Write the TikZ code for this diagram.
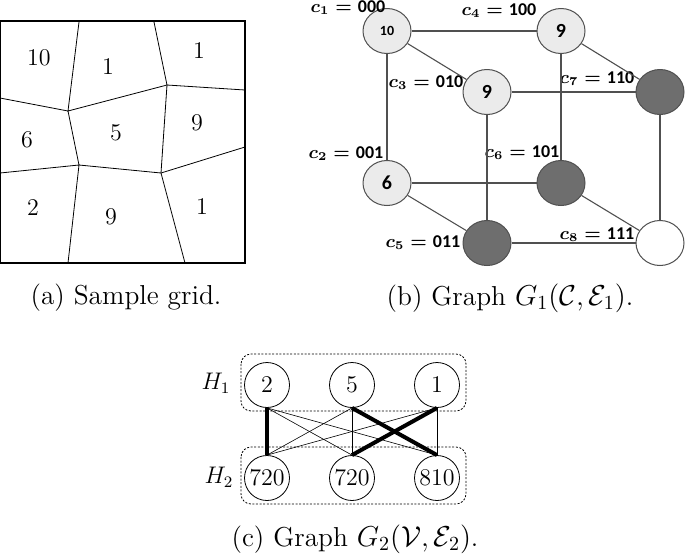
\documentclass[tikz,border=0pt]{standalone}
\usepackage{amsmath}
\usepackage{amssymb}
\usepackage{xcolor}
\usepackage{fontspec}
\usetikzlibrary{shapes.geometric}
\newfontfamily\carlito{Carlito}
\newcommand{\Cset}{\mathcal{C}}
\newcommand{\Vset}{\mathcal{V}}
\newcommand{\Eset}{\mathcal{E}}
\definecolor{cellgray}{HTML}{EBEBEB}
\definecolor{darkcell}{HTML}{6E6E6E}
\definecolor{edgegray}{HTML}{505050}
\tikzset{
  cellnum/.style={font=\large},
  cube/.style={ellipse, draw=edgegray, line width=0.5pt, minimum width=24pt,
    minimum height=22.5pt, inner sep=0pt, font=\carlito\bfseries\normalsize},
  light/.style={cube, fill=cellgray},
  dark/.style={cube, fill=darkcell},
  blank/.style={cube, fill=white},
  clabel/.style={font=\carlito\bfseries\boldmath\small, inner sep=0pt},
  cedge/.style={draw=edgegray, line width=0.55pt},
  vnode/.style={circle, draw, line width=0.4pt, minimum size=22.5pt, inner sep=0pt, font=\large},
  thinedge/.style={line width=0.3pt},
  heavy/.style={line width=2pt},
  group/.style={dash pattern=on 1pt off 0.8pt, rounded corners=5pt, line width=0.4pt},
  subcap/.style={font=\fontsize{13.7}{16}\selectfont}
}

\begin{document}
\begin{tikzpicture}[x=0.5pt, y=-0.5pt]
            \useasboundingbox (0,0) rectangle (685,553);

            %Grid
            \coordinate (t1) at (79,22);
            \coordinate (t2) at (154,22);
            \coordinate (l1) at (0,98);
            \coordinate (l2) at (0,173);
            \coordinate (r1) at (245,90);
            \coordinate (r2) at (245,147);
            \coordinate (b1) at (68,263);
            \coordinate (b2) at (185,263);
            \coordinate (A) at (68,111);
            \coordinate (B) at (167,85);
            \coordinate (C) at (79,165);
            \coordinate (D) at (161,173);
            \draw[line width=0.4pt] (t1) -- (A) -- (B) -- (t2);
            \draw[line width=0.4pt] (l1) -- (A) -- (C) -- (D) -- (B) -- (r1);
            \draw[line width=0.4pt] (l2) -- (C) -- (b1);
            \draw[line width=0.4pt] (r2) -- (D) -- (b2);
            \draw[line width=1pt] (0,21) rectangle (245,263);
            \node[cellnum] at (39,58) (g1) {10};
            \node[cellnum] at (108,67) (g2) {1};
            \node[cellnum] at (199,51) (g3) {1};
            \node[cellnum] at (27,140) (g4) {6};
            \node[cellnum] at (116,133) (g5) {5};
            \node[cellnum] at (197,123) (g6) {9};
            \node[cellnum] at (33,208) (g7) {2};
            \node[cellnum] at (111,217) (g8) {9};
            \node[cellnum] at (202,207) (g9) {1};
            \node[subcap] at (126,298) (capa) {(a) Sample grid.};

            %Nodes
            \node[light, font=\carlito\bfseries\scriptsize] at (387,31) (c1) {10};
            \node[light] at (387,183) (c2) {6};
            \node[light] at (487,92) (c3) {9};
            \node[light] at (561,31) (c4) {9};
            \node[dark] at (487,243) (c5) {};
            \node[dark] at (561,183) (c6) {};
            \node[dark] at (660,92) (c7) {};
            \node[blank] at (660,243) (c8) {};
            \node[clabel] at (348,8) (lc1) {$c_1 = {}$000};
            \node[clabel] at (346,154) (lc2) {$c_2 = {}$001};
            \node[clabel] at (426,83) (lc3) {$c_3 = {}$010};
            \node[clabel] at (499,11) (lc4) {$c_4 = {}$100};
            \node[clabel] at (423,243) (lc5) {$c_5 = {}$011};
            \node[clabel] at (522,153) (lc6) {$c_6 = {}$101};
            \node[clabel] at (597,79) (lc7) {$c_7 = {}$110};
            \node[clabel] at (597,235) (lc8) {$c_8 = {}$111};
            \node[subcap] at (510,298) (capb) {(b) Graph $G_1(\Cset,\Eset_1)$.};

            %Lines
            \draw[cedge] (c1) -- (c4);
            \draw[cedge] (c1) -- (c3);
            \draw[cedge] (c1) -- (c2);
            \draw[cedge] (c4) -- (c7);
            \draw[cedge] (c4) -- (c6);
            \draw[cedge] (c3) -- (c7);
            \draw[cedge] (c3) -- (c5);
            \draw[cedge] (c2) -- (c6);
            \draw[cedge] (c2) -- (c5);
            \draw[cedge] (c6) -- (c8);
            \draw[cedge] (c7) -- (c8);
            \draw[cedge] (c5) -- (c8);

            %Bipartite graph
            \draw[group] (241,354) rectangle (466,411);
            \draw[group] (241,447) rectangle (466,504);
            \node[vnode] at (267,385) (h1) {2};
            \node[vnode] at (352,385) (h2) {5};
            \node[vnode] at (437,385) (h3) {1};
            \node[vnode] at (267,478) (v1) {720};
            \node[vnode] at (352,478) (v2) {720};
            \node[vnode] at (437,478) (v3) {810};
            \node[font=\large] at (216,383) (H1) {$H_1$};
            \node[font=\large] at (219,477) (H2) {$H_2$};
            \draw[thinedge] (h1.south) -- (v2.north);
            \draw[thinedge] (h1.south) -- (v3.north);
            \draw[thinedge] (h2.south) -- (v1.north);
            \draw[thinedge] (h2.south) -- (v2.north);
            \draw[thinedge] (h3.south) -- (v1.north);
            \draw[thinedge] (h3.south) -- (v3.north);
            \draw[heavy] (h1.south) -- (v1.north);
            \draw[heavy] (h2.south) -- (v3.north);
            \draw[heavy] (h3.south) -- (v2.north);
            \node[subcap] at (355,539) (capc) {(c) Graph $G_2(\Vset,\Eset_2)$.};
        \end{tikzpicture}
\end{document}
